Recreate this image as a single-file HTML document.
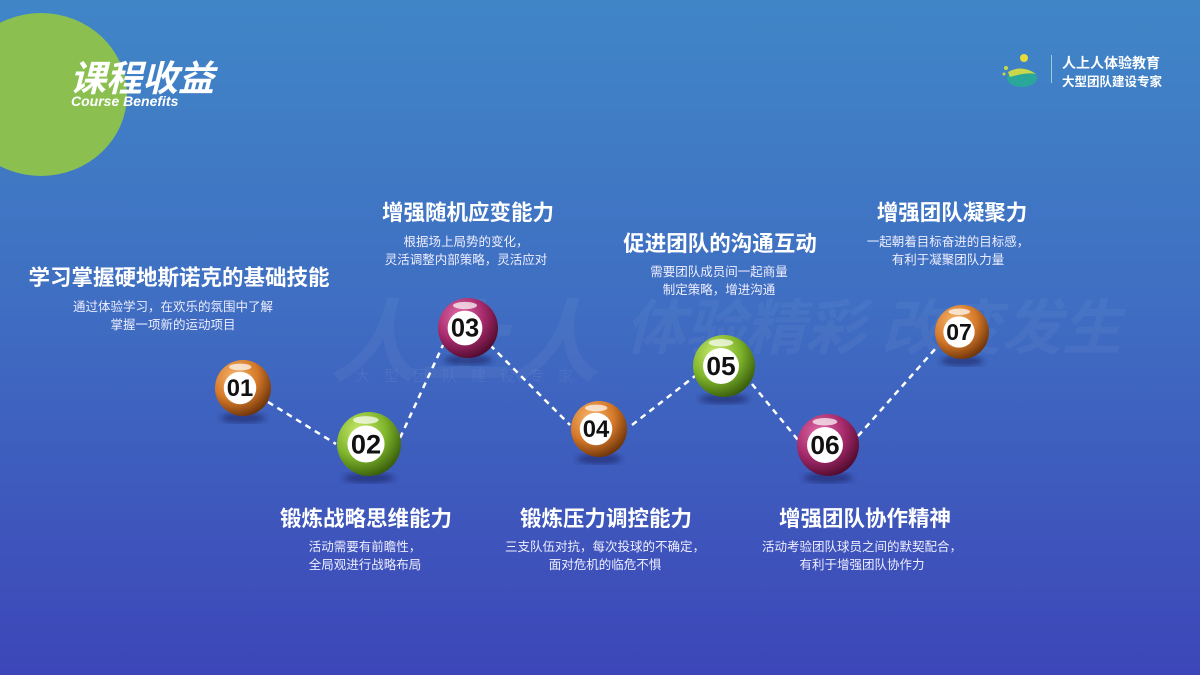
<!DOCTYPE html>
<html><head><meta charset="utf-8">
<style>
*{margin:0;padding:0}
body{width:1200px;height:675px;overflow:hidden;position:relative;font-family:"Liberation Sans","Noto Sans CJK SC",sans-serif;background:linear-gradient(180deg,#4086c7 0%,#3f6ec2 45%,#3d46b8 100%);color:#fff}
.abs{position:absolute}
.t{position:absolute;font-weight:bold;font-size:21.5px;text-align:center;white-space:nowrap;transform:translateX(-50%)}
.d{position:absolute;font-size:12.5px;line-height:18px;text-align:center;white-space:nowrap;transform:translateX(-50%);color:#eef}
</style></head><body>
<div class="abs" style="left:-45px;top:13px;width:172px;height:163px;border-radius:50%;background:#8bc050"></div>
<div class="abs" style="left:70px;top:50px;font-size:36px;font-weight:bold;font-style:italic;letter-spacing:0px">课程收益</div>
<div class="abs" style="left:71px;top:93px;font-size:14px;font-weight:bold;font-style:italic">Course Benefits</div>

<svg class="abs" style="left:1000px;top:50px" width="44" height="38" viewBox="0 0 44 38">
<ellipse cx="22" cy="28" rx="15" ry="9" fill="#2aa79b"/>
<path d="M8 22 Q22 14 36 24 Q26 22 10 27Z" fill="#c8d84a"/>
<circle cx="24" cy="8" r="4" fill="#e8dc3a"/><circle cx="6" cy="18" r="2" fill="#c8d84a"/><circle cx="4" cy="24" r="1.5" fill="#c8d84a"/>
</svg>
<div class="abs" style="left:1051px;top:55px;width:1px;height:28px;background:#9cc"></div>
<div class="abs" style="left:1062px;top:53px;font-size:14px;font-weight:bold">人上人体验教育</div>
<div class="abs" style="left:1062px;top:71px;font-size:12.5px;font-weight:bold">大型团队建设专家</div>

<div class="abs" style="left:330px;top:270px;font-size:90px;font-style:italic;font-weight:bold;color:rgba(255,255,255,0.045)">人上人</div>
<div class="abs" style="left:355px;top:365px;font-size:15px;letter-spacing:14px;color:rgba(255,255,255,0.06)">大型团队建设专家</div>
<div class="abs" style="left:625px;top:280px;font-size:60px;font-style:italic;font-weight:bold;color:rgba(255,255,255,0.045)">体验精彩 改变发生</div>

<svg class="abs" style="left:0;top:0" width="1200" height="675">
<defs>
<radialGradient id="o" cx="35%" cy="30%" r="75%"><stop offset="0" stop-color="#f6b46a"/><stop offset=".55" stop-color="#d6792a"/><stop offset="1" stop-color="#6a3208"/></radialGradient>
<radialGradient id="g" cx="35%" cy="30%" r="75%"><stop offset="0" stop-color="#c9ea6c"/><stop offset=".55" stop-color="#7fb52c"/><stop offset="1" stop-color="#365a0a"/></radialGradient>
<radialGradient id="p" cx="35%" cy="30%" r="75%"><stop offset="0" stop-color="#e06aa6"/><stop offset=".55" stop-color="#a62a6c"/><stop offset="1" stop-color="#4e0a2c"/></radialGradient>
<filter id="b"><feGaussianBlur stdDeviation="3"/></filter>
</defs>
<g stroke="#fff" stroke-width="2.5" stroke-dasharray="6,5" fill="none">
<polyline points="268,402 336,444"/><polyline points="400,438 443,345"/><polyline points="490,345 570,425"/><polyline points="632,425 695,376"/><polyline points="752,384 798,440"/><polyline points="858,436 936,348"/>
</g>
<g id="balls"></g>
</svg>
<script>
var B=[[243,388,28,'o','01'],[369,444,32,'g','02'],[468,328,30,'p','03'],[599,429,28,'o','04'],[724,366,31,'g','05'],[828,445,31,'p','06'],[962,332,27,'o','07']];
var s='';B.forEach(function(b){var x=b[0],y=b[1],r=b[2];
s+='<ellipse cx="'+x+'" cy="'+(y+r+2)+'" rx="'+r*0.8+'" ry="5" fill="#1a2060" opacity=".6" filter="url(#b)"/>';
s+='<circle cx="'+x+'" cy="'+y+'" r="'+r+'" fill="url(#'+b[3]+')"/>';
s+='<circle cx="'+(x-3)+'" cy="'+y+'" r="'+r*0.58+'" fill="#fff"/>';
s+='<ellipse cx="'+(x-r*0.1)+'" cy="'+(y-r*0.75)+'" rx="'+r*0.4+'" ry="'+r*0.12+'" fill="#fff" opacity=".7"/>';
s+='<text x="'+(x-3)+'" y="'+(y+r*0.29)+'" text-anchor="middle" font-family="Liberation Sans" font-weight="bold" font-size="'+r*0.85+'" fill="#111">'+b[4]+'</text>';});
document.getElementById('balls').innerHTML=s;
</script>

<div class="t" style="left:179px;top:261px">学习掌握硬地斯诺克的基础技能</div>
<div class="d" style="left:173px;top:298px">通过体验学习，在欢乐的氛围中了解<br>掌握一项新的运动项目</div>
<div class="t" style="left:468px;top:196px">增强随机应变能力</div>
<div class="d" style="left:466px;top:233px">根据场上局势的变化，<br>灵活调整内部策略，灵活应对</div>
<div class="t" style="left:720px;top:227px">促进团队的沟通互动</div>
<div class="d" style="left:719px;top:263px">需要团队成员间一起商量<br>制定策略，增进沟通</div>
<div class="t" style="left:952px;top:196px">增强团队凝聚力</div>
<div class="d" style="left:948px;top:233px">一起朝着目标奋进的目标感，<br>有利于凝聚团队力量</div>
<div class="t" style="left:366px;top:502px">锻炼战略思维能力</div>
<div class="d" style="left:365px;top:538px">活动需要有前瞻性，<br>全局观进行战略布局</div>
<div class="t" style="left:606px;top:502px">锻炼压力调控能力</div>
<div class="d" style="left:605px;top:538px">三支队伍对抗，每次投球的不确定，<br>面对危机的临危不惧</div>
<div class="t" style="left:865px;top:502px">增强团队协作精神</div>
<div class="d" style="left:862px;top:538px">活动考验团队球员之间的默契配合，<br>有利于增强团队协作力</div>
</body></html>
